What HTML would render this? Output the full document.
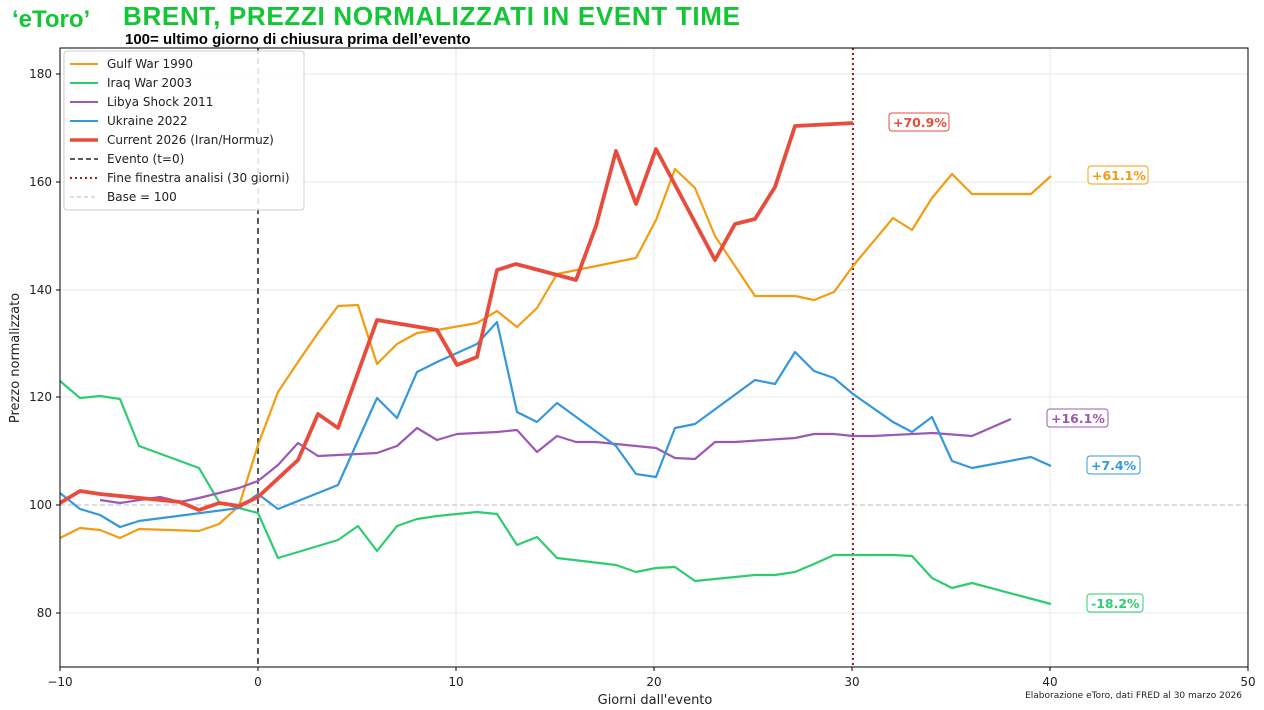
<!DOCTYPE html><html><head><meta charset="utf-8"><style>body{margin:0;background:#fff;width:1264px;height:706px;overflow:hidden;font-family:"DejaVu Sans","Liberation Sans",sans-serif}</style></head><body>
<svg width="1264" height="706" xmlns="http://www.w3.org/2000/svg" font-family="DejaVu Sans, Liberation Sans, sans-serif">
<text x="12" y="27" font-size="24" font-weight="bold" fill="#13c636" font-family="Liberation Sans, sans-serif">‘eToro’</text>
<text x="123" y="25" font-size="26" font-weight="bold" fill="#13c636" font-family="Liberation Sans, sans-serif" textLength="617">BRENT, PREZZI NORMALIZZATI IN EVENT TIME</text>
<text x="125" y="44" font-size="15" font-weight="bold" fill="#000" font-family="Liberation Sans, sans-serif">100= ultimo giorno di chiusura prima dell’evento</text>
<g stroke="#e8e8e8" stroke-width="1">
<line x1="60" y1="613" x2="1248" y2="613"/><line x1="60" y1="397" x2="1248" y2="397"/><line x1="60" y1="290" x2="1248" y2="290"/><line x1="60" y1="182" x2="1248" y2="182"/><line x1="60" y1="74" x2="1248" y2="74"/>
<line x1="456" y1="48" x2="456" y2="667"/><line x1="654" y1="48" x2="654" y2="667"/><line x1="852" y1="48" x2="852" y2="667"/><line x1="1050" y1="48" x2="1050" y2="667"/>
</g>
<line x1="60" y1="505" x2="1248" y2="505" stroke="#bbb" stroke-dasharray="5,3"/>
<line x1="258" y1="48" x2="258" y2="667" stroke="#222" stroke-width="1.5" stroke-dasharray="6,4"/>
<line x1="853" y1="48" x2="853" y2="667" stroke="#a02020" stroke-width="2" stroke-dasharray="2,3"/>
<g fill="none" stroke-width="2.2" stroke-linejoin="round">
<polyline stroke="#f39c12" points="60,538 80,528 100,530 120,538 139,529 199,531 219,524 239,506 258,445 278,392 298,362 318,333 338,306 358,305 377,364 397,344 417,333 437,330 477,323 497,311 517,327 537,308 557,274 616,262 636,258 656,220 675,169 695,188 715,236 755,296 775,296 795,296 814,300 834,292 853,266 893,218 912,230 932,198 952,174 972,194 1031,194 1051,176"/>
<polyline stroke="#2ecc71" points="60,381 80,398 100,396 120,399 139,446 199,468 219,502 239,508 258,513 278,558 338,540 358,526 377,551 397,526 417,519 437,516 477,512 497,514 517,545 537,537 557,558 616,565 636,572 656,568 675,567 695,581 755,575 775,575 795,572 814,564 834,555 893,555 912,556 932,578 952,588 972,583 1051,604"/>
<polyline stroke="#9b59b6" points="100,500 120,503 160,497 180,502 199,498 239,488 258,481 278,465 298,443 318,456 358,454 377,453 397,446 417,428 437,440 457,434 497,432 517,430 537,452 557,436 576,442 596,442 616,444 656,448 675,458 695,459 715,442 735,442 795,438 814,434 834,434 853,436 873,436 933,433 972,436 1011,419"/>
<polyline stroke="#3498db" points="60,493 80,509 100,515 120,527 139,521 239,508 258,494 278,509 338,485 377,398 397,418 417,372 437,362 477,344 497,322 517,412 537,422 557,403 616,446 636,474 656,477 675,428 695,424 755,380 775,384 795,352 814,371 834,378 853,394 893,422 912,432 932,417 952,461 972,468 1031,457 1051,466"/>
<polyline stroke="#e74c3c" stroke-width="3.8" points="60,503 80,491 100,494 140,498 180,502 199,510 219,503 239,506 258,497 298,460 318,414 338,428 377,320 437,330 457,365 477,357 497,270 516,264 576,280 596,226 616,151 636,204 656,149 715,260 735,224 755,219 775,187 795,126 853,123"/>
</g>
<rect x="60" y="48" width="1188" height="619" fill="none" stroke="#000" stroke-width="1"/>
<g font-size="12" fill="#222" text-anchor="end">
<text x="52" y="617">80</text><text x="52" y="401">120</text><text x="52" y="509">100</text><text x="52" y="294">140</text><text x="52" y="186">160</text><text x="52" y="78">180</text></g>
<g stroke="#000"><line x1="56" y1="613" x2="60" y2="613"/><line x1="56" y1="505" x2="60" y2="505"/><line x1="56" y1="397" x2="60" y2="397"/><line x1="56" y1="290" x2="60" y2="290"/><line x1="56" y1="182" x2="60" y2="182"/><line x1="56" y1="74" x2="60" y2="74"/>
<line x1="60" y1="667" x2="60" y2="671"/><line x1="258" y1="667" x2="258" y2="671"/><line x1="456" y1="667" x2="456" y2="671"/><line x1="654" y1="667" x2="654" y2="671"/><line x1="852" y1="667" x2="852" y2="671"/><line x1="1050" y1="667" x2="1050" y2="671"/><line x1="1248" y1="667" x2="1248" y2="671"/></g>
<g font-size="12" fill="#222" text-anchor="middle">
<text x="60" y="686">−10</text><text x="258" y="686">0</text><text x="456" y="686">10</text><text x="654" y="686">20</text><text x="852" y="686">30</text><text x="1050" y="686">40</text><text x="1248" y="686">50</text>
<text x="655" y="704" font-size="13">Giorni dall'evento</text></g>
<text x="19" y="358" font-size="13" fill="#222" text-anchor="middle" transform="rotate(-90 19 358)">Prezzo normalizzato</text>
<text x="1242" y="698" font-size="9" fill="#222" text-anchor="end">Elaborazione eToro, dati FRED al 30 marzo 2026</text>
<g font-size="12.5" font-weight="bold">
<rect x="889" y="113" width="60" height="18" rx="3" fill="#fff" stroke="#e74c3c"/><text x="893" y="127" fill="#e74c3c">+70.9%</text>
<rect x="1088" y="166" width="60" height="18" rx="3" fill="#fff" stroke="#f39c12"/><text x="1092" y="180" fill="#f39c12">+61.1%</text>
<rect x="1047" y="409" width="61" height="18" rx="3" fill="#fff" stroke="#9b59b6"/><text x="1051" y="423" fill="#9b59b6">+16.1%</text>
<rect x="1087" y="456" width="53" height="18" rx="3" fill="#fff" stroke="#3498db"/><text x="1091" y="470" fill="#3498db">+7.4%</text>
<rect x="1087" y="594" width="56" height="18" rx="3" fill="#fff" stroke="#2ecc71"/><text x="1091" y="608" fill="#2ecc71">-18.2%</text>
</g>
<rect x="64" y="51" width="240" height="159" rx="3" fill="#fff" fill-opacity="0.85" stroke="#ccc"/>
<g font-size="12" fill="#222">
<line x1="70" y1="64" x2="98" y2="64" stroke="#f39c12" stroke-width="2"/><text x="107" y="68">Gulf War 1990</text>
<line x1="70" y1="83" x2="98" y2="83" stroke="#2ecc71" stroke-width="2"/><text x="107" y="87">Iraq War 2003</text>
<line x1="70" y1="102" x2="98" y2="102" stroke="#9b59b6" stroke-width="2"/><text x="107" y="106">Libya Shock 2011</text>
<line x1="70" y1="121" x2="98" y2="121" stroke="#3498db" stroke-width="2"/><text x="107" y="125">Ukraine 2022</text>
<line x1="70" y1="140" x2="98" y2="140" stroke="#e74c3c" stroke-width="3.5"/><text x="107" y="144">Current 2026 (Iran/Hormuz)</text>
<line x1="70" y1="159" x2="98" y2="159" stroke="#222" stroke-width="1.5" stroke-dasharray="5,3"/><text x="107" y="163">Evento (t=0)</text>
<line x1="70" y1="178" x2="98" y2="178" stroke="#a02020" stroke-width="2" stroke-dasharray="2,3"/><text x="107" y="182">Fine finestra analisi (30 giorni)</text>
<line x1="70" y1="197" x2="98" y2="197" stroke="#bbb" stroke-dasharray="4,3"/><text x="107" y="201">Base = 100</text>
</g>
</svg></body></html>
